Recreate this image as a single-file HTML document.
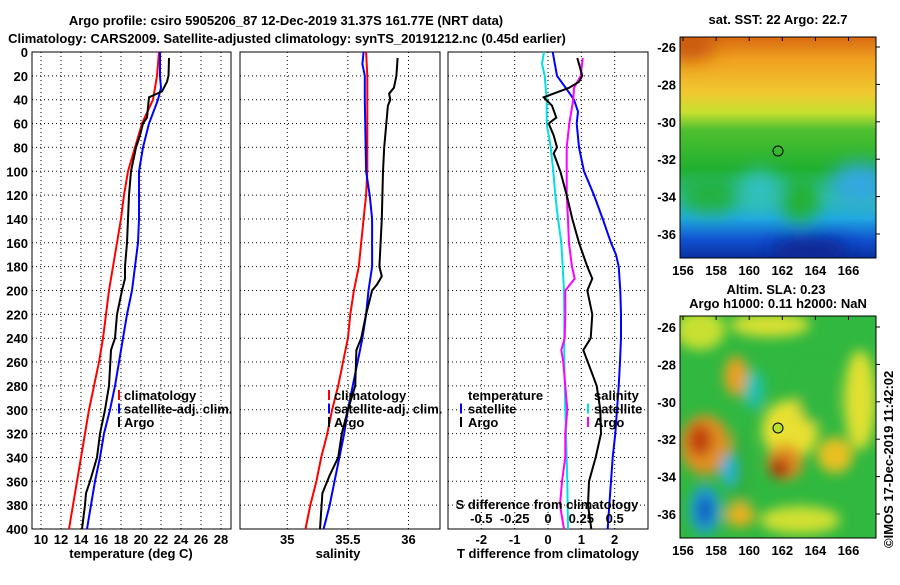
<!DOCTYPE html>
<html><head><meta charset="utf-8"><style>
body{margin:0;background:#fff;}
svg text{font-family:"Liberation Sans",sans-serif;font-weight:bold;font-size:13px;fill:#000;}
</style></head><body>
<svg id="chart" width="900" height="580" viewBox="0 0 900 580" xmlns="http://www.w3.org/2000/svg">
<defs>
<filter id="blur6" x="-50%" y="-50%" width="200%" height="200%"><feGaussianBlur stdDeviation="6"/></filter>
<filter id="blur10" x="-50%" y="-50%" width="200%" height="200%"><feGaussianBlur stdDeviation="9"/></filter>
<linearGradient id="sstg" x1="0" y1="0" x2="0" y2="1">
<stop offset="0" stop-color="#d86a10"/><stop offset="0.1" stop-color="#f0a020"/><stop offset="0.25" stop-color="#f0c830"/>
<stop offset="0.34" stop-color="#c8e030"/><stop offset="0.42" stop-color="#50c030"/><stop offset="0.6" stop-color="#20b030"/>
<stop offset="0.72" stop-color="#30c0a0"/><stop offset="0.82" stop-color="#20a8e0"/><stop offset="0.92" stop-color="#1050d0"/><stop offset="1" stop-color="#0a30a0"/></linearGradient>
<clipPath id="sstclip"><rect x="680" y="37" width="196" height="221"/></clipPath>
<clipPath id="slaclip"><rect x="680" y="316" width="196" height="222"/></clipPath>
</defs>
<text x="286" y="25" text-anchor="middle" font-size="14">Argo profile: csiro 5905206_87 12-Dec-2019 31.37S 161.77E (NRT data)</text>
<text x="287" y="43" text-anchor="middle" font-size="14">Climatology: CARS2009. Satellite-adjusted climatology: synTS_20191212.nc (0.45d earlier)</text>
<g id="panels"></g>
<g id="maps">
<text x="778" y="24" text-anchor="middle" font-size="13.5">sat. SST: 22 Argo: 22.7</text>
<g clip-path="url(#sstclip)">
<rect x="680" y="37" width="196" height="221" fill="url(#sstg)"/>
<g filter="url(#blur10)">
<ellipse cx="690" cy="45" rx="25" ry="15" fill="#c85a10"/>
<ellipse cx="710" cy="195" rx="30" ry="18" fill="#20b040"/>
<ellipse cx="760" cy="190" rx="20" ry="20" fill="#30c0c0"/>
<ellipse cx="800" cy="200" rx="20" ry="22" fill="#20b030"/>
<ellipse cx="860" cy="185" rx="30" ry="22" fill="#30a8e0"/>
<ellipse cx="810" cy="250" rx="40" ry="12" fill="#082890"/>
</g>
</g>
<rect x="680" y="37" width="196" height="221" fill="none" stroke="#000"/>
<circle cx="778" cy="151" r="5" fill="none" stroke="#000"/>
<text x="776" y="294" text-anchor="middle" font-size="13.5">Altim. SLA: 0.23</text>
<text x="778" y="308" text-anchor="middle" font-size="13.5">Argo h1000: 0.11 h2000: NaN</text>
<g clip-path="url(#slaclip)">
<rect x="680" y="316" width="196" height="222" fill="#30b840"/>
<g filter="url(#blur6)">
<ellipse cx="700" cy="330" rx="25" ry="20" fill="#c8e030"/>
<ellipse cx="770" cy="325" rx="40" ry="12" fill="#d8e030"/>
<ellipse cx="860" cy="400" rx="16" ry="50" fill="#e0e030"/>
<ellipse cx="705" cy="445" rx="25" ry="30" fill="#e09020"/>
<ellipse cx="700" cy="440" rx="12" ry="16" fill="#c04010"/>
<ellipse cx="705" cy="510" rx="16" ry="25" fill="#20a0d0"/>
<ellipse cx="705" cy="510" rx="7" ry="15" fill="#1050c0"/>
<ellipse cx="736" cy="376" rx="12" ry="20" fill="#e8a020"/>
<ellipse cx="790" cy="430" rx="28" ry="30" fill="#e8e030"/>
<ellipse cx="785" cy="462" rx="18" ry="18" fill="#e09020"/>
<ellipse cx="780" cy="468" rx="10" ry="10" fill="#b03010"/>
<ellipse cx="740" cy="470" rx="12" ry="40" fill="#30b040"/>
<ellipse cx="835" cy="455" rx="18" ry="18" fill="#e8c020"/>
<ellipse cx="754" cy="390" rx="10" ry="20" fill="#20c0b0"/>
<ellipse cx="728" cy="470" rx="7" ry="16" fill="#20b0e0"/>
<ellipse cx="740" cy="515" rx="15" ry="12" fill="#e8b020"/>
<ellipse cx="800" cy="520" rx="40" ry="14" fill="#d0e030"/>
<ellipse cx="815" cy="395" rx="18" ry="30" fill="#30b840"/>
</g>
</g>
<rect x="680" y="316" width="196" height="222" fill="none" stroke="#000"/>
<circle cx="778" cy="428" r="5" fill="#b8e030" stroke="#000"/>
<text transform="translate(893,548) rotate(-90)" font-weight="normal" font-size="12">©IMOS 17-Dec-2019 11:42:02</text>
</g>
</svg>
<script>
// ---- data ----
const depths = [0,20,40,60,80,100,120,140,160,180,200,220,240,260,280,300,320,340,360,380,400];
const tempClim = [21.8,21.6,21.2,20.1,19.4,18.7,18.3,18.0,17.6,17.2,16.8,16.5,16.2,15.8,15.3,14.8,14.4,14.0,13.6,13.2,12.8];
const tempSatDepths = [0,20,30,40,60,80,100,120,140,160,180,200,220,240,260,280,300,320,340,360,380,400];
const tempSat = [21.9,21.9,22.0,21.7,20.8,20.2,19.8,19.8,19.8,19.7,19.4,19.1,18.6,18.2,17.8,17.4,16.9,16.3,15.9,15.4,15.0,14.6];
const argoDepths = [5,20,25,33,38,55,60,70,80,100,120,140,160,180,190,200,220,240,250,280,300,320,340,360,370,380,400];
const tempArgo = [22.8,22.75,22.6,22.1,20.8,20.6,20.2,19.9,19.5,19.0,18.8,18.7,18.6,18.4,18.4,18.1,17.6,17.4,17.0,16.8,16.4,15.9,15.6,14.9,14.5,14.4,14.1];
const salClim = [35.65,35.66,35.66,35.66,35.66,35.66,35.65,35.63,35.61,35.59,35.55,35.52,35.50,35.46,35.42,35.37,35.33,35.28,35.24,35.19,35.15];
const salSatDepths = [0,10,20,40,100,120,140,180,200,220,240,260,280,300,320,340,360,380,400];
const salSat = [35.63,35.62,35.64,35.64,35.65,35.68,35.70,35.70,35.67,35.65,35.62,35.58,35.54,35.50,35.47,35.43,35.39,35.35,35.30];
const salArgoDepths = [5,20,30,35,40,45,80,100,140,160,180,188,195,200,220,240,250,280,300,320,340,355,370,400];
const salArgo = [35.91,35.90,35.88,35.84,35.85,35.83,35.80,35.79,35.78,35.77,35.76,35.78,35.74,35.70,35.65,35.61,35.57,35.56,35.50,35.45,35.42,35.35,35.29,35.27];
const dTSatDepths = [0,20,30,40,50,60,80,100,120,140,160,170,180,200,220,240,260,280,300,320,340,360,380,400];
const dTSat = [0.14,0.27,0.53,0.78,0.9,0.86,0.93,1.08,1.38,1.64,1.89,2.04,2.12,2.17,2.19,2.19,2.16,2.12,2.07,2.02,1.94,1.89,1.84,1.79];
const dTArgoDepths = [5,20,25,30,38,45,55,60,70,80,85,100,120,140,160,180,190,200,220,240,250,270,280,300,320,340,360,380,400];
const dTArgo = [0.88,1.03,0.93,0.63,-0.13,0.12,0.25,0.02,0.17,0.27,0.17,0.37,0.56,0.73,0.93,1.18,1.33,1.18,1.33,1.28,1.06,1.33,1.46,1.57,1.59,1.43,1.23,1.2,1.3];
const dSSatDepths = [0,10,20,40,60,80,100,120,140,160,180,200,220,260,300,320,360,400];
const dSSat = [-0.03,-0.045,-0.025,-0.01,-0.01,0.02,0.04,0.055,0.075,0.1,0.11,0.12,0.122,0.122,0.13,0.135,0.145,0.15];
const dSArgoDepths = [5,20,30,40,60,80,120,140,160,180,190,200,220,240,250,260,280,300,320,340,360,380,400];
const dSArgo = [0.26,0.245,0.195,0.19,0.16,0.14,0.14,0.15,0.157,0.18,0.2,0.13,0.13,0.125,0.1,0.115,0.13,0.145,0.13,0.13,0.105,0.09,0.12];
const depthTicks = [0,20,40,60,80,100,120,140,160,180,200,220,240,260,280,300,320,340,360,380,400];
const tempTicks = [10,12,14,16,18,20,22,24,26,28];
const salTicks = [35,35.5,36];
const dTTicks = [-2,-1,0,1,2];
const dSTicks = [-0.5,-0.25,0,0.25,0.5];
const lonTicks = [156,158,160,162,164,166];
const latTicks = [-26,-28,-30,-32,-34,-36];

const NS='http://www.w3.org/2000/svg';
const G=document.getElementById('panels');
function mk(tag,attrs,parent){const e=document.createElementNS(NS,tag);for(const k in attrs)e.setAttribute(k,attrs[k]);(parent||G).appendChild(e);return e;}
const yTop=52,yBot=529;
const yScale=d=>yTop+(d/400)*(yBot-yTop);
function panel(x0,x1,xmin,xmax,name){
  const xs=v=>x0+(v-xmin)/(xmax-xmin)*(x1-x0);
  const g=mk('g',{});
  
  
  return {xs,g,x0,x1};
}
function grid(p,ticks){
  depthTicks.forEach(d=>{if(d>0&&d<400){const l=mk('line',{x1:p.x0,x2:p.x1,y1:yScale(d),y2:yScale(d),stroke:'#000','stroke-dasharray':'1,3','stroke-width':1},p.g);
    
    }});
  ticks.forEach(t=>{const x=p.xs(t);const l=mk('line',{x1:x,x2:x,y1:yTop,y2:yBot,stroke:'#000','stroke-dasharray':'1,3','stroke-width':1},p.g);
    
    });
  const r=mk('rect',{x:p.x0,y:yTop,width:p.x1-p.x0,height:yBot-yTop,fill:'none',stroke:'#000','stroke-width':1},p.g);
  
  
}
function line(p,ds,vs,color,name){
  const pts=ds.map((d,i)=>p.xs(vs[i]).toFixed(1)+','+yScale(d).toFixed(1)).join(' ');
  const l=mk('polyline',{points:pts,fill:'none',stroke:color,'stroke-width':2},p.g);
  
  
}
function text(p,x,y,s,anchor,name){const t=mk('text',{x:x,y:y,'text-anchor':anchor||'start'},p.g);t.textContent=s;
  
  return t;}
function legMark(p,x,y,color){const l=mk('line',{x1:x,x2:x,y1:y-10,y2:y,stroke:color,'stroke-width':2},p.g);
  
  }

const p1=panel(32,231,9.1,29,'temperature-panel');
grid(p1,tempTicks);
line(p1,depths,tempClim,'#ff0000','temp-climatology-line');
line(p1,tempSatDepths,tempSat,'#0000ff','temp-satellite-line');
line(p1,argoDepths,tempArgo,'#000','temp-argo-line');
depthTicks.forEach(d=>text(p1,28,yScale(d)+5,String(d),'end','depth-tick-label'));
tempTicks.forEach(t=>text(p1,p1.xs(t),544,String(t),'middle','temp-tick-label'));
text(p1,131,558,'temperature (deg C)','middle','temp-axis-title');
[['#ff0000','climatology'],['#0000ff','satellite-adj. clim.'],['#000','Argo']].forEach((e,i)=>{legMark(p1,119,400+i*13.5,e[0]);text(p1,124,400+i*13.5,e[1],'start','legend-entry');});

const p2=panel(240,440,34.61,36.26,'salinity-panel');
grid(p2,salTicks);
line(p2,depths,salClim,'#ff0000','sal-climatology-line');
line(p2,salSatDepths,salSat,'#0000ff','sal-satellite-line');
line(p2,salArgoDepths,salArgo,'#000','sal-argo-line');
salTicks.forEach(t=>text(p2,p2.xs(t),544,String(t),'middle','sal-tick-label'));
text(p2,338,558,'salinity','middle','sal-axis-title');
[['#ff0000','climatology'],['#0000ff','satellite-adj. clim.'],['#000','Argo']].forEach((e,i)=>{legMark(p2,329,400+i*13.5,e[0]);text(p2,334,400+i*13.5,e[1],'start','legend-entry');});

const p3=panel(448,648,-3.0,3.0,'difference-panel');
const p3s={xs:v=>p3.xs(v*4),g:p3.g,x0:p3.x0,x1:p3.x1};
grid(p3,dTTicks);
line(p3s,dSSatDepths,dSSat,'#00e0e0','sal-diff-satellite-line');
line(p3,dTSatDepths,dTSat,'#0000ff','temp-diff-satellite-line');
line(p3s,dSArgoDepths,dSArgo,'#ff00ff','sal-diff-argo-line');
line(p3,dTArgoDepths,dTArgo,'#000','temp-diff-argo-line');
dTTicks.forEach(t=>text(p3,p3.xs(t),544,String(t),'middle','dT-tick-label'));
dSTicks.forEach(t=>text(p3,p3s.xs(t),523,String(t),'middle','dS-tick-label'));
text(p3,547,509,'S difference from climatology','middle','dS-axis-title');
text(p3,548,558,'T difference from climatology','middle','dT-axis-title');
text(p3,468,400,'temperature','start','legend-title');
legMark(p3,461,413.5,'#0000ff');text(p3,468,413.5,'satellite','start','legend-entry');
legMark(p3,461,427,'#000');text(p3,468,427,'Argo','start','legend-entry');
text(p3,594,400,'salinity','start','legend-title');
legMark(p3,588,413.5,'#00e0e0');text(p3,594,413.5,'satellite','start','legend-entry');
legMark(p3,588,427,'#ff00ff');text(p3,594,427,'Argo','start','legend-entry');

const M=document.getElementById('maps');
const lonX=l=>683+(l-156)*16.55;
function mapAxes(top,bot,lat26){
  const latY=l=>lat26+(-26-l)*18.7;
  lonTicks.forEach(l=>{
    const t=mk('text',{x:lonX(l),y:bot+17,'text-anchor':'middle'},M);t.textContent=String(l);
    
    
    const k=mk('line',{x1:lonX(l),x2:lonX(l),y1:top,y2:top+4,stroke:'#000'},M);
    
    
  });
  latTicks.forEach(l=>{
    const t=mk('text',{x:676,y:latY(l)+5,'text-anchor':'end'},M);t.textContent=String(l);
    
    
    const k=mk('line',{x1:876,x2:880,y1:latY(l),y2:latY(l),stroke:'#000'},M);
    
    
  });
}
mapAxes(37,258,47);
mapAxes(316,538,327);
</script>
</body></html>
